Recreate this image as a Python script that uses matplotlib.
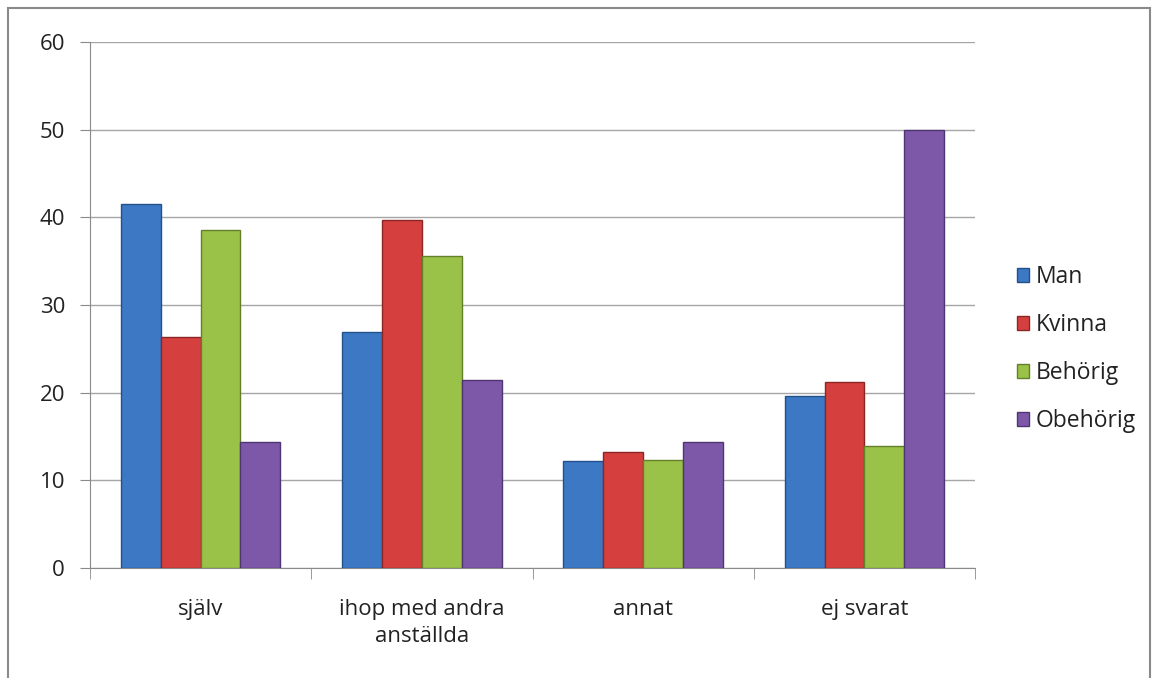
import matplotlib
matplotlib.use("Agg")
import matplotlib.pyplot as plt
import numpy as np
from matplotlib.patches import Rectangle

categories = ["själv", "ihop med andra\nanställda", "annat", "ej svarat"]
series_names = ["Man", "Kvinna", "Behörig", "Obehörig"]
man = [41.5, 26.9, 12.2, 19.6]
kvinna = [26.3, 39.7, 13.2, 21.2]
behorig = [38.6, 35.6, 12.3, 13.9]
obehorig = [14.4, 21.4, 14.4, 50.0]
series = [man, kvinna, behorig, obehorig]
colors = ["#3c78c4", "#d53f3e", "#9bc248", "#7d58a8"]
edges = ["#22508a", "#8c2624", "#637f2a", "#4f3670"]
yticks = [0, 10, 20, 30, 40, 50, 60]

plt.rcParams['font.family'] = ['Open Sans', 'DejaVu Sans']
fig = plt.figure(figsize=(11.55, 6.78), dpi=100)
fig.patches.append(Rectangle((8/1155, -0.1), (1150-8)/1155, 1.1 - 8/678,
                             transform=fig.transFigure, fill=False,
                             edgecolor="#8a8a8a", linewidth=1.5))
ax = fig.add_axes([90/1155, 1 - 568/678, (975-90)/1155, (568-42)/678])

x = np.arange(len(categories))
w = 0.18
for i, (vals, c, e, name) in enumerate(zip(series, colors, edges, series_names)):
    ax.bar(x + (i - 1.5) * w, vals, width=w, color=c, edgecolor=e,
           linewidth=1.0, label=name, zorder=3)

ax.set_xlim(-0.5, len(categories) - 0.5)
ax.set_ylim(0, 60)
ax.set_yticks(yticks)
ax.set_yticklabels([str(t) for t in yticks], fontsize=16, color="#222222")
ax.yaxis.grid(True, color="#a6a6a6", linewidth=1.0, zorder=0)
ax.set_axisbelow(True)

ax.set_xticks(x)
ax.set_xticklabels(categories, fontsize=16, color="#222222", linespacing=1.4)
ax.tick_params(axis='x', length=0, pad=22)
ax.set_xticks(np.arange(len(categories) + 1) - 0.5, minor=True)
ax.tick_params(axis='x', which='minor', length=8, color="#8a8a8a")
ax.tick_params(axis='y', length=7, color="#8a8a8a", pad=11)

for s in ["top", "right"]:
    ax.spines[s].set_visible(False)
for s in ["left", "bottom"]:
    ax.spines[s].set_color("#8a8a8a")

leg = fig.legend(loc="center left", bbox_to_anchor=(996/1155, 1 - 349/678),
                 frameon=False, fontsize=16.5, handlelength=0.55, handleheight=0.55,
                 labelspacing=1.05, handletextpad=0.3)
for t in leg.get_texts():
    t.set_color("#222222")

fig.savefig("out.png", dpi=100)
